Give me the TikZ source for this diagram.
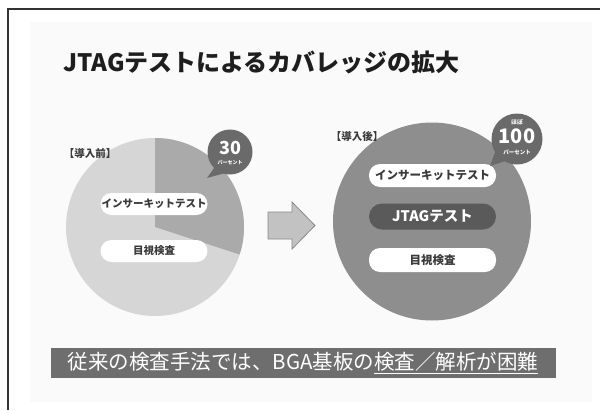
\documentclass[tikz,border=0pt]{standalone}
\usepackage{fontspec}
\setmainfont{Noto Sans CJK JP}
\usetikzlibrary{calc}
\definecolor{framec}{HTML}{333333}
\definecolor{bgc}{HTML}{FAFAFA}
\definecolor{titlec}{HTML}{1E1E1E}
\definecolor{pielight}{HTML}{D6D6D6}
\definecolor{pieslice}{HTML}{AAAAAA}
\definecolor{bubblec}{HTML}{6A6A6A}
\definecolor{bigc}{HTML}{8E8E8E}
\definecolor{jtagc}{HTML}{5A5A5A}
\definecolor{arrowf}{HTML}{C2C2C2}
\definecolor{arrowd}{HTML}{8A8A8A}
\definecolor{bannerc}{HTML}{6E6E6E}
\definecolor{pilltext}{HTML}{3A3A3A}
\tikzset{
  pill/.style={rectangle, rounded corners=11pt, fill=white, text=pilltext, font=\bfseries\fontsize{10.5}{11}\selectfont, inner sep=0pt},
  darkpill/.style={rectangle, rounded corners=13pt, fill=jtagc, text=white, font=\bfseries\fontsize{14.5}{15}\selectfont, inner sep=0pt},
  tag/.style={text=pilltext, font=\bfseries\fontsize{10.5}{11}\selectfont, inner sep=0pt},
  bubble/.style={circle, fill=bubblec, inner sep=0pt},
  btext/.style={text=white, inner sep=0pt},
}
\begin{document}
\begin{tikzpicture}[x=1pt,y=-1pt]
\useasboundingbox (0,0) rectangle (600,410);
% background and frame
\fill[bgc] (30,22) rectangle (592,402);
\draw[framec, line width=2pt] (8,410) -- (8,8.5) -- (600,8.5);
% title
\node[anchor=west, text=titlec, font=\bfseries\fontsize{24}{26}\selectfont, inner sep=0pt] (title) at (63,62) {JTAGテストによるカバレッジの拡大};
% left pie
\coordinate (lc) at (155,227);
\fill[pielight] (lc) circle (89);
\fill[pieslice] (lc) -- ++(-90:89) arc[start angle=-90, end angle=18, radius=89] -- cycle;
\node[tag] (before) at (90,153) {【導入前】};
\node[pill, minimum width=107pt, minimum height=22pt] (ict1) at (154,204) {インサーキットテスト};
\node[pill, minimum width=107pt, minimum height=22pt] (vis1) at (154,251) {目視検査};
% bubble 30
\coordinate (b30c) at (230,152);
\fill[bubblec] ($(b30c)+(135:22)$) -- (207,178) -- ($(b30c)+(105:22)$) -- cycle;
\node[bubble, minimum size=45pt] (b30) at (b30c) {};
\node[btext, font=\bfseries\fontsize{18}{18}\selectfont] (n30) at (230,148) {30};
\node[btext, font=\bfseries\fontsize{5}{5}\selectfont] (p30) at (230,162) {パーセント};
% arrow
\draw[arrowd, fill=arrowf, line width=0.8pt] (268,212) -- (292,212) -- (292,202) -- (315,225.5) -- (292,249) -- (292,239) -- (268,239) -- cycle;
% right circle
\coordinate (rc) at (432,221.5);
\fill[bigc] (rc) circle (99);
\node[tag] (after) at (357,137) {【導入後】};
\node[pill, font=\bfseries\fontsize{11.5}{12}\selectfont, minimum width=127pt, minimum height=23pt] (ict2) at (432.5,175.5) {インサーキットテスト};
\node[darkpill, minimum width=127pt, minimum height=26pt] (jtag) at (432.5,216.5) {JTAGテスト};
\node[pill, font=\bfseries\fontsize{11.5}{12}\selectfont, minimum width=127pt, minimum height=24pt] (vis2) at (432.5,260) {目視検査};
% bubble 100
\coordinate (b100c) at (517,139);
\fill[bubblec] ($(b100c)+(118:25)$) -- (490,166) -- ($(b100c)+(150:25)$) -- cycle;
\node[bubble, minimum size=51pt] (b100) at (b100c) {};
\node[btext, font=\bfseries\fontsize{6}{6}\selectfont] (hobo) at (517,122) {ほぼ};
\node[btext, font=\bfseries\fontsize{20}{20}\selectfont] (n100) at (517,136) {100};
\node[btext, font=\bfseries\fontsize{5.5}{5.5}\selectfont] (p100) at (517,152) {パーセント};
% banner
\node[rectangle, fill=bannerc, text=white, minimum width=505pt, minimum height=30pt, inner sep=0pt, font=\fontsize{20.5}{21}\selectfont] (banner) at (303,363) {従来の検査手法では、BGA基板の\underline{検査／解析が困難}};
\end{tikzpicture}
\end{document}
